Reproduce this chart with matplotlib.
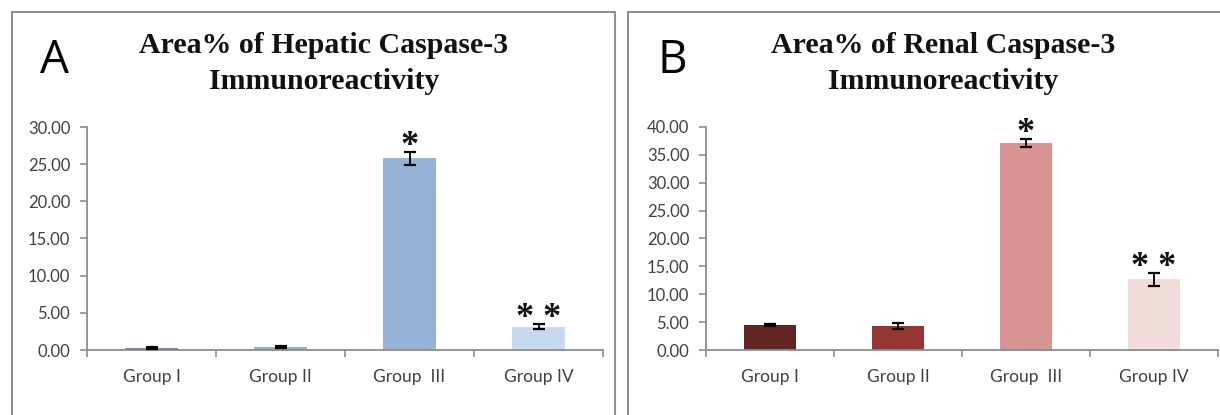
import numpy as np
import matplotlib
matplotlib.use("Agg")
import matplotlib.pyplot as plt
from matplotlib.patches import Rectangle
from matplotlib.ticker import FixedLocator, FormatStrFormatter

plt.rcParams['font.family'] = ['Lato', 'DejaVu Sans']

groups = ["Group I", "Group II", "Group  III", "Group IV"]

# panel A: hepatic
hep_vals = [0.30, 0.45, 25.8, 3.15]
hep_err = [0.10, 0.15, 0.85, 0.30]
hep_colors = ["#6E87A8", "#8DB0DA", "#95B3D7", "#C6D9F0"]
hep_stars = ["", "", "*", "* *"]

# panel B: renal
ren_vals = [4.5, 4.3, 37.2, 12.7]
ren_err = [0.15, 0.50, 0.70, 1.20]
ren_colors = ["#632523", "#963634", "#D99594", "#F2DCDB"]
ren_stars = ["", "", "*", "* *"]

W, H = 1220, 415
fig = plt.figure(figsize=(W / 100, H / 100), dpi=100)

# panel frames
fig.patches.append(Rectangle((12 / W, -0.1), (615 - 12) / W, 0.1 + (H - 12) / H,
                             transform=fig.transFigure, fill=False,
                             edgecolor="#8f8f8f", lw=1.5))
fig.patches.append(Rectangle((628 / W, -0.1), 0.5, 0.1 + (H - 12) / H,
                             transform=fig.transFigure, fill=False,
                             edgecolor="#8f8f8f", lw=1.5))


def panel(left, width, vals, err, colors, stars, ymax, letter, lx, title1, tx):
    ax = fig.add_axes([left / W, (H - 350) / H, width / W, 223 / H])
    x = np.arange(len(vals))
    ax.bar(x, vals, width=0.41, color=colors, zorder=2)
    ax.errorbar(x, vals, yerr=err, fmt="none", ecolor="black",
                elinewidth=1.3, capsize=4, capthick=1.6, zorder=3)
    for xi, v, e, s in zip(x, vals, err, stars):
        if s:
            ax.annotate(s, (xi, v + e), xytext=(0, -8), textcoords="offset points",
                        ha="center", va="bottom", fontsize=26, weight="bold",
                        family="Liberation Serif", color="#111111")
    ax.set_xlim(-0.5, len(vals) - 0.5)
    ax.set_ylim(0, ymax)
    ax.set_yticks(np.arange(0, ymax + 0.1, 5))
    ax.yaxis.set_major_formatter(FormatStrFormatter("%.2f"))
    ax.set_xticks(x)
    ax.set_xticklabels(groups)
    ax.xaxis.set_minor_locator(FixedLocator(np.arange(-0.5, len(vals), 1.0)))
    ax.tick_params(axis="x", which="major", length=0, pad=14, labelsize=12.5,
                   labelcolor="#404040")
    ax.tick_params(axis="x", which="minor", length=5, width=1.2, color="#8c8c8c")
    ax.tick_params(axis="y", length=5, width=1.2, color="#8c8c8c", pad=7,
                   labelsize=12, labelcolor="#404040")
    for sp in ["top", "right"]:
        ax.spines[sp].set_visible(False)
    for sp in ["left", "bottom"]:
        ax.spines[sp].set_color("#8c8c8c")
        ax.spines[sp].set_linewidth(1.3)

    fig.text(lx / W, (H - 73) / H, letter, fontsize=33, family="Open Sans",
             va="baseline", ha="left", color="black")
    fig.text(tx / W, (H - 53) / H, title1, fontsize=21.5, family="Liberation Serif",
             weight="bold", ha="center", va="baseline", color="#111111")
    fig.text(tx / W, (H - 89) / H, "Immunoreactivity", fontsize=21.5,
             family="Liberation Serif", weight="bold", ha="center",
             va="baseline", color="#111111")
    return ax


panel(87, 516, hep_vals, hep_err, hep_colors, hep_stars, 30, "A", 40,
      "Area% of Hepatic Caspase-3", 324)
panel(706, 512, ren_vals, ren_err, ren_colors, ren_stars, 40, "B", 658,
      "Area% of Renal Caspase-3", 943)

fig.savefig("out.png", dpi=100)
